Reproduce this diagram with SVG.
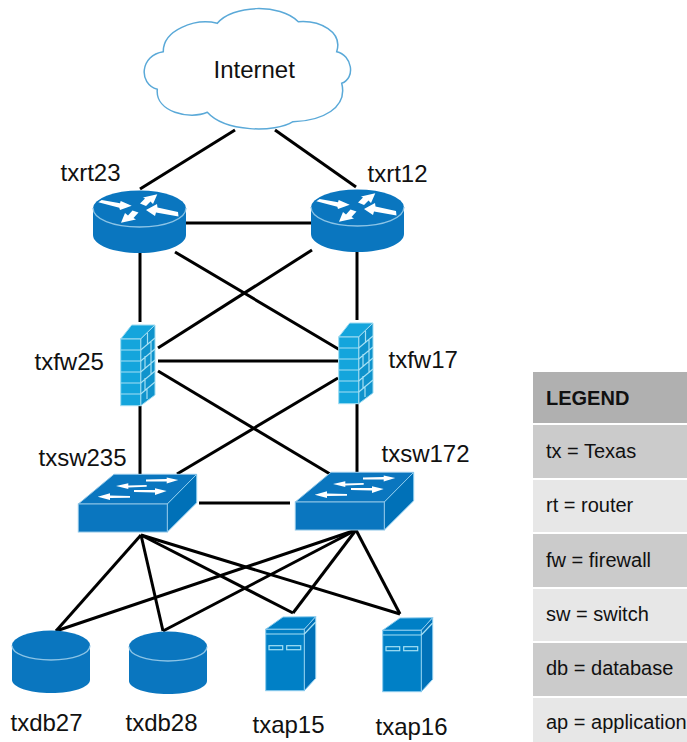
<svg xmlns="http://www.w3.org/2000/svg" width="687" height="742" viewBox="0 0 687 742">
<style>
text{font-family:"Liberation Sans",Arial,sans-serif;fill:#111}
.l{font-size:24px}
.k{font-size:20px}
.c line{stroke:#000;stroke-width:3;fill:none}
.d{fill:#0a76bf}
.e{fill:none;stroke:#8cc4e6;stroke-width:1.3}
.w{fill:#fff}
.f{fill:#14a5dc;stroke:#9fdcf2;stroke-width:1}
.fs{fill:#0f93cc;stroke:#9fdcf2;stroke-width:1}
.b{fill:none;stroke:#a5e0f4;stroke-width:1.2}
.s{fill:#0080c6;stroke:#8cccEE;stroke-width:1}
.ss{fill:#0071b8;stroke:#8cccEE;stroke-width:1}
</style>
<defs>
<g id="router">
<path class="d" d="M93 208V235C93 245 113 253 139.500 253C166 253 186 245 186 235V208Z"/>
<ellipse class="d" cx="139.500" cy="208.500" rx="46.500" ry="18"/>
<path class="e" d="M93 208C93 219 113 227 139.500 227C166 227 186 219 186 208"/>
<polygon class="w" points="98.300,202.300 101.700,200 120,203.300 120.700,201 131.700,205.700 120,210 119.300,207.700"/>
<polygon class="w" points="157.300,194.300 153,204 150.500,201.500 146,206 140,203.500 145,198.500 143,197.500"/>
<polygon class="w" points="146,210 157,204 157.500,207.500 178,212 178.500,216.500 156,212.500 155,216"/>
<polygon class="w" points="121,222.700 125,213 128,215.500 132.500,210.500 138.500,212.500 133.500,218 136,219.500"/>
</g>
<g id="firewall">
<polygon class="f" points="120.700,339 131.700,325 155,325 140.700,339"/>
<polygon class="fs" points="140.700,339 155,325 155,395 140.700,405.700"/>
<rect class="f" x="120.700" y="339" width="20" height="66.700"/>
<path class="b" d="M120.700 350H140.700M120.700 361H140.700M120.700 372H140.700M120.700 383H140.700M120.700 394H140.700M140.700 350L155 338M140.700 361L155 349M140.700 372L155 360M140.700 383L155 371M140.700 394L155 382M147.500 333V345M151 342V354M145 356V368M151 352V364M145 378V390M151 363V375M147 389V399"/>
</g>
<g id="switch">
<polygon class="d" points="78.300,504 114,474.300 196.700,474.300 167.300,504" stroke="#8cc4e6"/>
<polygon class="ss" points="167.300,504 196.700,474.300 196.700,502.700 167.300,532"/>
<rect class="d" x="78.300" y="504" width="89" height="28" stroke="#8cc4e6"/>
<polygon class="w" points="146,479.500 166.700,479 166.700,477.500 178.300,480 166.700,483.500 166.700,481.500 146,481.500"/>
<polygon class="w" points="146.700,485 128.300,485.500 128.300,483.300 116,486 128.300,489 128.300,487.500 146.700,486.700"/>
<polygon class="w" points="134,490 155,490 155,488.300 166.700,491 155,495 155,492.500 134,492"/>
<polygon class="w" points="130,496 110,495.500 110,493.300 97.700,496.700 110,500 110,498 130,497.700"/>
</g>
<g id="db">
<path class="d" d="M12 645.500V680C12 687 29 693 51 693C73 693 90 687 90 680V645.500Z"/>
<ellipse class="d" cx="51" cy="645.500" rx="39" ry="15"/>
<path class="e" d="M12 645.500C12 654 29 660 51 660C73 660 90 654 90 645.500"/>
</g>
<g id="server">
<polygon class="s" points="265.700,629.300 283,617 315.700,616.700 304.300,629.300"/>
<polygon class="ss" points="304.300,629.300 315.700,616.700 315.700,678.300 304.300,690.700"/>
<rect class="s" x="265.700" y="629.300" width="38.600" height="61.400"/>
<path class="b" d="M265.700 634H304.300M304.300 634L315.700 622"/>
<rect class="b" x="269" y="645.700" width="13.700" height="4"/>
<rect class="b" x="286.700" y="645.700" width="14" height="4"/>
</g>
</defs>
<g id="connectors" class="c">
<line x1="235" y1="130" x2="140" y2="189"/>
<line x1="275" y1="130" x2="356" y2="187"/>
<line x1="186" y1="223" x2="311" y2="223"/>
<line x1="140" y1="252" x2="140" y2="322"/>
<line x1="357" y1="250" x2="357" y2="320"/>
<line x1="175" y1="252" x2="340" y2="350"/>
<line x1="312" y1="250" x2="158" y2="348"/>
<line x1="158" y1="361" x2="338" y2="361"/>
<line x1="158" y1="371" x2="330" y2="474"/>
<line x1="338" y1="378" x2="177" y2="474"/>
<line x1="140" y1="406" x2="140" y2="474"/>
<line x1="357" y1="404" x2="357" y2="472"/>
<line x1="199" y1="503" x2="290" y2="503"/>
<line x1="141" y1="535" x2="56" y2="631"/>
<line x1="141" y1="535" x2="163" y2="631"/>
<line x1="141" y1="535" x2="293" y2="613"/>
<line x1="141" y1="535" x2="400" y2="614"/>
<line x1="356" y1="530" x2="56" y2="631"/>
<line x1="356" y1="530" x2="163" y2="631"/>
<line x1="356" y1="530" x2="293" y2="613"/>
<line x1="356" y1="530" x2="400" y2="614"/>
</g>
<g id="internet">
<path fill="#fff" stroke="#5aa9d8" stroke-width="1.500" d="M217.300 23.300C232 5 280 3 298.300 21.700C320 20 343 32 336.700 51.700C352 55 356 78 341.700 83.300C348 108 322 121 293 121.700C275 133 225 132 207.300 112.300C190 120 155 112 157.300 89.300C138 84 140 55 163.300 51.700C163 30 195 18 217.300 23.300Z"/>
<text class="l" x="213.500" y="78">Internet</text>
</g>
<g id="txrt23"><use href="#router"/><text class="l" x="60.500" y="181">txrt23</text></g>
<g id="txrt12"><use href="#router" x="218" y="-1"/><text class="l" x="367.500" y="182">txrt12</text></g>
<g id="txfw25"><use href="#firewall"/><text class="l" x="34.500" y="370">txfw25</text></g>
<g id="txfw17"><use href="#firewall" x="218" y="-2"/><text class="l" x="388.500" y="368">txfw17</text></g>
<g id="txsw235"><use href="#switch"/><text class="l" x="38.500" y="466">txsw235</text></g>
<g id="txsw172"><use href="#switch" x="217" y="-2"/><text class="l" x="381.500" y="462">txsw172</text></g>
<g id="txdb27"><use href="#db"/><text class="l" x="10.500" y="731">txdb27</text></g>
<g id="txdb28"><use href="#db" x="117" y="1"/><text class="l" x="125.500" y="731">txdb28</text></g>
<g id="txap15"><use href="#server"/><text class="l" x="252.500" y="733">txap15</text></g>
<g id="txap16"><use href="#server" x="117" y="1"/><text class="l" x="375.500" y="735">txap16</text></g>
<g id="legend">
<rect x="533" y="372" width="154" height="51" fill="#b0b0b0"/>
<rect x="533" y="425" width="154" height="53" fill="#cbcbcb"/>
<rect x="533" y="480" width="154" height="52" fill="#e7e7e7"/>
<rect x="533" y="534" width="154" height="53" fill="#cbcbcb"/>
<rect x="533" y="589" width="154" height="52" fill="#e7e7e7"/>
<rect x="533" y="643" width="154" height="53" fill="#cbcbcb"/>
<rect x="533" y="698" width="154" height="44" fill="#e7e7e7"/>
<text class="k" x="546" y="405" font-weight="bold">LEGEND</text>
<text class="k" x="546" y="458">tx = Texas</text>
<text class="k" x="546" y="512">rt = router</text>
<text class="k" x="546" y="567">fw = firewall</text>
<text class="k" x="546" y="621">sw = switch</text>
<text class="k" x="546" y="675">db = database</text>
<text class="k" x="546" y="729">ap = application</text>
</g>
</svg>
